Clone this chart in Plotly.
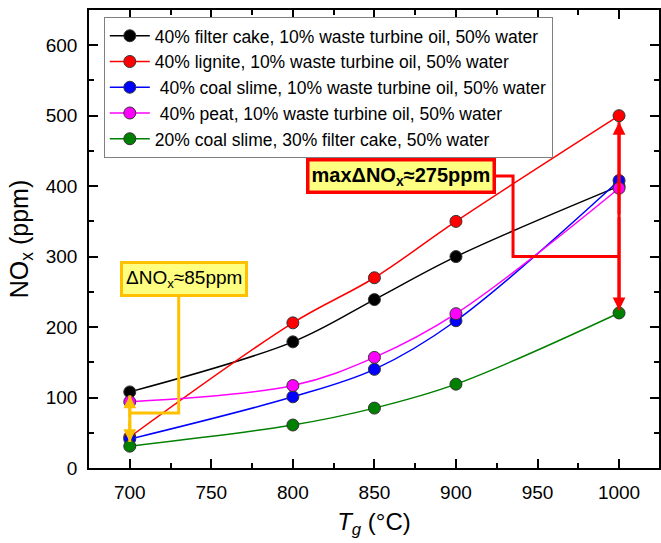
import plotly.graph_objects as go

# Gas temperature, °C
temperature = [700, 800, 850, 900, 1000]

# NOx emission, ppm
nox_filter_cake = [108, 179, 239, 300, 400]
nox_lignite = [44, 206, 270, 350, 500]
nox_coal_slime = [41, 101, 140, 209, 408]
nox_peat = [94, 117, 157, 219, 397]
nox_slime_cake = [31, 61, 85, 119, 220]

series_names = [
    "40% filter cake, 10% waste turbine oil, 50% water",
    "40% lignite, 10% waste turbine oil, 50% water",
    "\u00a040% coal slime, 10% waste turbine oil, 50% water",
    "\u00a040% peat, 10% waste turbine oil, 50% water",
    "20% coal slime, 30% filter cake, 50% water",
]
series_values = [nox_filter_cake, nox_lignite, nox_coal_slime, nox_peat, nox_slime_cake]
series_colors = ["#000000", "#FF0000", "#0000FF", "#FF00FF", "#008000"]

FONT = "Arial, Liberation Sans, sans-serif"
YELLOW_EDGE = "#FFC000"
BOX_FILL = "#FFFF80"

fig = go.Figure()
for name, vals, col in zip(series_names, series_values, series_colors):
    fig.add_trace(go.Scatter(
        x=temperature, y=vals, name=name, mode="lines+markers",
        line=dict(color=col, width=1.5, shape="spline", smoothing=1.0),
        marker=dict(color=col, size=12, line=dict(color="#333333", width=1)),
    ))

# connector lines for the callouts
fig.add_shape(type="path", path="M 730,247 L 730,78 L 700,78",
              xref="x", yref="y", line=dict(color=YELLOW_EDGE, width=3), layer="above")
fig.add_shape(type="line", x0=700, x1=700, y0=37, y1=103,
              xref="x", yref="y", line=dict(color=YELLOW_EDGE, width=3), layer="above")
fig.add_shape(type="path", path="M 923,414.5 L 935,414.5 L 935,300 L 1000,300",
              xref="x", yref="y", line=dict(color="#FF0000", width=3), layer="above")
fig.add_shape(type="line", x0=1000, x1=1000, y0=224, y1=491,
              xref="x", yref="y", line=dict(color="#FF0000", width=3), layer="above")

# arrowheads: from the midpoint of each span out to both tips
for (xm, ym, yt, col) in [(700, 70, 103, YELLOW_EDGE), (700, 70, 37, YELLOW_EDGE),
                          (1000, 358, 491, "#FF0000"), (1000, 358, 224, "#FF0000")]:
    fig.add_annotation(x=xm, y=yt, ax=xm, ay=ym, xref="x", yref="y", axref="x", ayref="y",
                       text="", showarrow=True, arrowhead=2, arrowsize=0.85,
                       arrowwidth=3, arrowcolor=col, standoff=0, startstandoff=0)

fig.add_annotation(x=733, y=268.8, xref="x", yref="y", showarrow=False,
                   text="ΔNO<sub>x</sub>≈85ppm",
                   font=dict(family=FONT, size=19, color="black"),
                   bgcolor=BOX_FILL, bordercolor=YELLOW_EDGE, borderwidth=3, borderpad=3)
fig.add_annotation(x=866.2, y=414.4, xref="x", yref="y", showarrow=False,
                   text="<b>maxΔNO<sub>x</sub>≈275ppm</b>",
                   font=dict(family=FONT, size=20, color="black"),
                   bgcolor=BOX_FILL, bordercolor="#FF0000", borderwidth=3.5, borderpad=2)

axis_common = dict(
    showline=True, linecolor="black", linewidth=1.5, mirror="ticks",
    ticks="inside", ticklen=9, tickwidth=1.5, tickcolor="black",
    showgrid=False, zeroline=False,
    tickfont=dict(family=FONT, size=19, color="black"),
)

fig.update_xaxes(
    range=[675, 1024.5], tick0=700, dtick=50,
    minor=dict(ticks="inside", ticklen=5, dtick=25, tick0=675, tickcolor="black", tickwidth=1.5),
    title=dict(text="<i>T</i><sub><i>g</i></sub> (°C)",
               font=dict(family=FONT, size=24, color="black"), standoff=12),
    ticklabelstandoff=6,
    **axis_common,
)
fig.update_yaxes(
    range=[0, 650], tick0=0, dtick=100,
    minor=dict(ticks="inside", ticklen=5, dtick=50, tickcolor="black", tickwidth=1.5),
    title=dict(text="NO<sub>x</sub> (ppm)", font=dict(family=FONT, size=25, color="black"),
               standoff=10),
    ticklabelstandoff=6,
    **axis_common,
)

fig.update_layout(
    width=661, height=543,
    margin=dict(l=89, r=0, t=10, b=75),
    paper_bgcolor="white", plot_bgcolor="white",
    font=dict(family=FONT, color="black"),
    legend=dict(
        x=0.026, y=0.985, xanchor="left", yanchor="top",
        font=dict(family=FONT, size=17.5, color="black"),
        bgcolor="white", bordercolor="#808080", borderwidth=1,
        tracegroupgap=0, itemwidth=40,
    ),
)

fig.write_html("out.html")
